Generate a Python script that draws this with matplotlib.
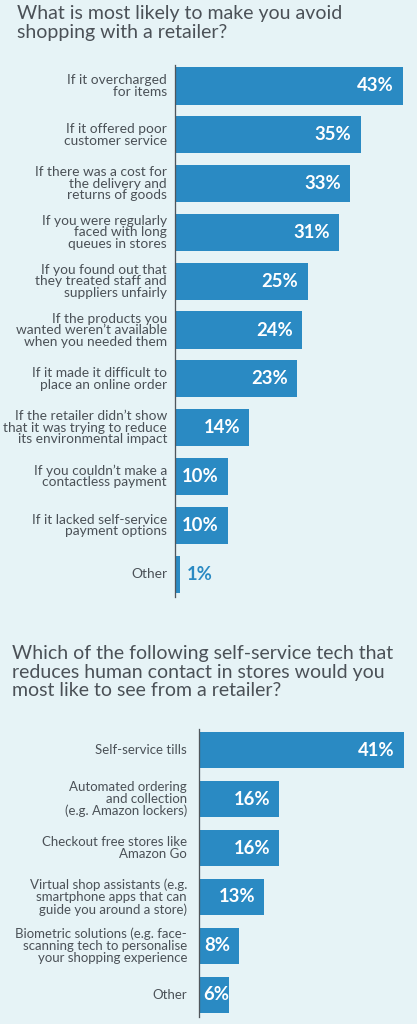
import matplotlib.pyplot as plt

# --- data -------------------------------------------------------------
title_top = "What is most likely to make you avoid\nshopping with a retailer?"
labels_top = [
    "If it overcharged\nfor items",
    "If it offered poor\ncustomer service",
    "If there was a cost for\nthe delivery and\nreturns of goods",
    "If you were regularly\nfaced with long\nqueues in stores",
    "If you found out that\nthey treated staff and\nsuppliers unfairly",
    "If the products you\nwanted weren\u2019t available\nwhen you needed them",
    "If it made it difficult to\nplace an online order",
    "If the retailer didn\u2019t show\nthat it was trying to reduce\nits environmental impact",
    "If you couldn\u2019t make a\ncontactless payment",
    "If it lacked self-service\npayment options",
    "Other",
]
values_top = [43, 35, 33, 31, 25, 24, 23, 14, 10, 10, 1]

title_bot = ("Which of the following self-service tech that\n"
             "reduces human contact in stores would you\n"
             "most like to see from a retailer?")
labels_bot = [
    "Self-service tills",
    "Automated ordering\nand collection\n(e.g. Amazon lockers)",
    "Checkout free stores like\nAmazon Go",
    "Virtual shop assistants (e.g.\nsmartphone apps that can\nguide you around a store)",
    "Biometric solutions (e.g. face-\nscanning tech to personalise\nyour shopping experience",
    "Other",
]
values_bot = [41, 16, 16, 13, 8, 6]

BG = "#e6f3f6"
BAR = "#2a8ac3"
TXT = "#4b5157"
FONT = ["Lato", "DejaVu Sans"]

W, H = 417, 1024
fig = plt.figure(figsize=(W / 72, H / 72), dpi=72, facecolor=BG)
plt.rcParams["font.family"] = FONT


def px_axes(x0, y0, x1, y1):
    # pixel box (top-left origin) -> figure axes
    return fig.add_axes([x0 / W, 1 - y1 / H, (x1 - x0) / W, (y1 - y0) / H])


def draw(ax, labels, values, xmax, ytop, ybot, bh, lab_x, lab_fs, lab_ls):
    n = len(values)
    ax.set_facecolor(BG)
    ax.barh(range(n), values, height=bh, color=BAR, zorder=2)
    ax.set_xlim(0, xmax)
    ax.set_ylim(ybot, ytop)
    for s in ["top", "right", "bottom"]:
        ax.spines[s].set_visible(False)
    ax.spines["left"].set_color("#50565c")
    ax.spines["left"].set_linewidth(1.3)
    ax.spines["left"].set_zorder(3)
    ax.set_xticks([])
    ax.set_yticks([])
    for i, (lab, v) in enumerate(zip(labels, values)):
        ax.annotate(lab, (0, i), xytext=(-lab_x, 0), textcoords="offset points",
                    ha="right", va="center", fontsize=lab_fs, color=TXT,
                    linespacing=lab_ls)
        txt = f"{v}%"
        if v <= 2:
            ax.annotate(txt, (v, i), xytext=(7, 0), textcoords="offset points",
                        ha="left", va="center", fontsize=18.5,
                        fontweight="bold", color=BAR)
        elif v < 7:
            ax.annotate(txt, (0, i), xytext=(4, 0), textcoords="offset points",
                        ha="left", va="center", fontsize=18.5,
                        fontweight="bold", color="white")
        else:
            ax.annotate(txt, (v, i), xytext=(-9, 0), textcoords="offset points",
                        ha="right", va="center", fontsize=18.5,
                        fontweight="bold", color="white")


# top chart
fig.text(17 / W, 1 - 5 / H, title_top, fontsize=19.5, color=TXT,
         ha="left", va="top", linespacing=1.12)
ax1 = px_axes(175, 65, 417, 597)
draw(ax1, labels_top, values_top, 242 / 5.3, -0.43, 10.47, 0.76, 8, 13.8, 0.95)

# bottom chart
fig.text(12 / W, 1 - 645 / H, title_bot, fontsize=19.5, color=TXT,
         ha="left", va="top", linespacing=1.12)
ax2 = px_axes(199, 729, 417, 1017)
draw(ax2, labels_bot, values_bot, 218 / 5.0, -0.43, 5.45, 0.74, 12, 13.3, 1.0)

fig.savefig("out.png", dpi=72, facecolor=BG)
